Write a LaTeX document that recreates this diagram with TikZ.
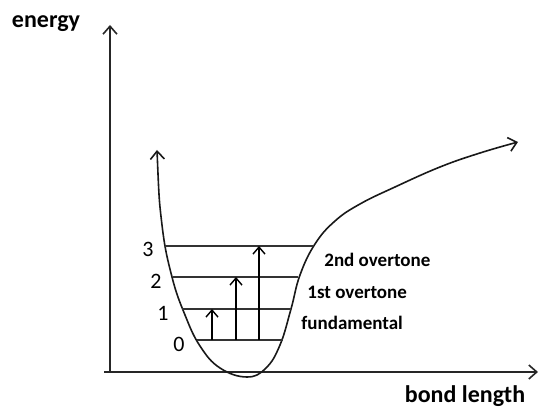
\documentclass[tikz,border=0pt]{standalone}
\usepackage{fontspec}
\setmainfont{Carlito}
\usepackage{tikz}
\usetikzlibrary{arrows.meta}

\begin{document}
\begin{tikzpicture}[
  x=0.5pt,y=-0.5pt,
  axis/.style={line width=0.9pt,draw=black!85,-{Straight Barb[length=4pt,width=7pt,line width=0.8pt]}},
  curve/.style={line width=0.8pt,draw=black!90,{Straight Barb[length=4pt,width=7pt,line width=0.8pt]}-{Straight Barb[length=4pt,width=7pt,line width=0.8pt]}},
  level/.style={line width=1pt,draw=black!80},
  jump/.style={line width=0.7pt,draw=black,-{Straight Barb[length=3.5pt,width=6pt,line width=0.7pt]}},
  axislabel/.style={inner sep=0pt,font=\fontsize{12}{14}\selectfont\bfseries},
  levelnum/.style={inner sep=0pt,font=\fontsize{11}{13}\selectfont},
  tag/.style={inner sep=0pt,anchor=west,font=\fontsize{9.5}{11}\selectfont\bfseries}
]
  \useasboundingbox (0,0) rectangle (542,416);
  % axes
  \coordinate (origin) at (110,372);
  \coordinate (ytip) at (110,25);
  \coordinate (xtip) at (538,372);
  \draw[axis] (origin) -- (ytip);
  \draw[axis] ([xshift=-3pt]origin) -- (xtip);
  \node[axislabel] (energy) at (46,24) {energy};
  \node[axislabel] (bond) at (465,396) {bond length};
  % potential curve
  \draw[curve] plot[smooth,tension=0.7] coordinates {(157,150) (162,225) (172,277)
    (185,315) (200,346) (220,368) (247,377) (266,368) (280,345) (291,309) (300,275)
    (315,244) (335,221) (360,204) (395,187) (440,167) (480,153) (518,142)};
  % energy levels
  \coordinate (v0l) at (197,340); \coordinate (v0r) at (283,340);
  \coordinate (v1l) at (182,309); \coordinate (v1r) at (291,309);
  \coordinate (v2l) at (173,277); \coordinate (v2r) at (298,277);
  \coordinate (v3l) at (165,246); \coordinate (v3r) at (313,246);
  \draw[level] (v0l) -- (v0r);
  \draw[level] (v1l) -- (v1r);
  \draw[level] (v2l) -- (v2r);
  \draw[level] (v3l) -- (v3r);
  \node[levelnum] (n0) at (179,344) {0};
  \node[levelnum] (n1) at (163,313) {1};
  \node[levelnum] (n2) at (156,281) {2};
  \node[levelnum] (n3) at (148,249) {3};
  % transitions
  \coordinate (a1) at (212,340); \coordinate (b1) at (212,309);
  \coordinate (a2) at (236,340); \coordinate (b2) at (236,277);
  \coordinate (a3) at (259,340); \coordinate (b3) at (259,246);
  \draw[jump] (a1) -- (b1);
  \draw[jump] (a2) -- (b2);
  \draw[jump] (a3) -- (b3);
  \node[tag] (over2) at (324,260) {2nd overtone};
  \node[tag] (over1) at (307,292) {1st overtone};
  \node[tag] (fund) at (301,323) {fundamental};
\end{tikzpicture}
\end{document}
